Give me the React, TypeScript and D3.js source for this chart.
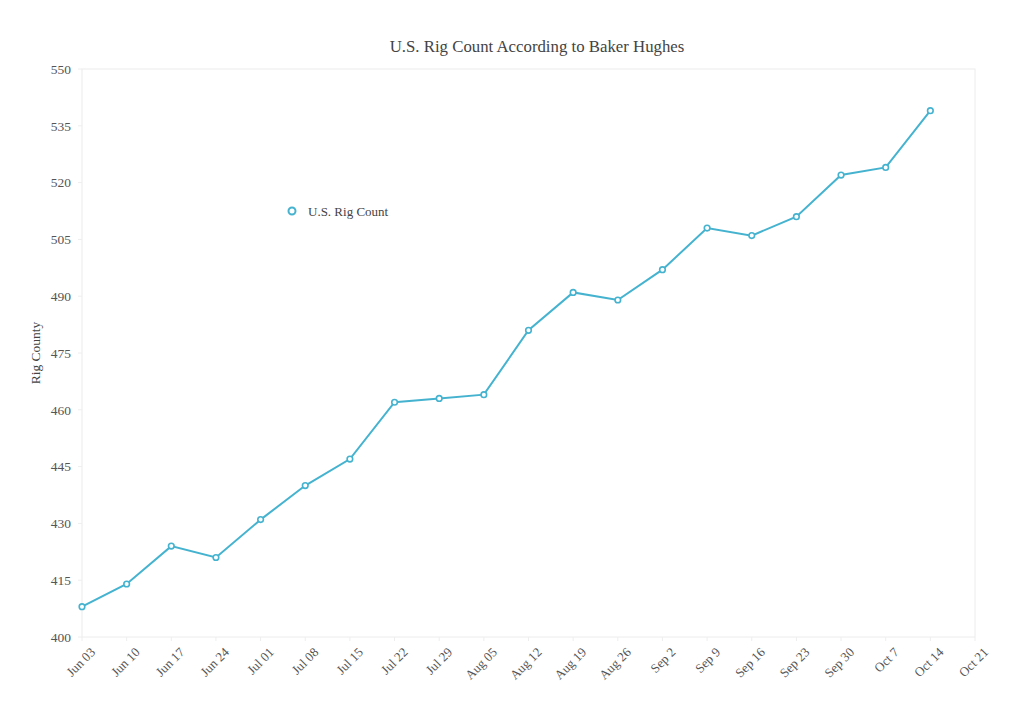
import React from "react";
import * as d3 from "d3";

const categories = ["Jun 03","Jun 10","Jun 17","Jun 24","Jul 01","Jul 08","Jul 15","Jul 22","Jul 29","Aug 05","Aug 12","Aug 19","Aug 26","Sep 2","Sep 9","Sep 16","Sep 23","Sep 30","Oct 7","Oct 14","Oct 21"];
const rigCount: (number | null)[] = [408,414,424,421,431,440,447,462,463,464,481,491,489,497,508,506,511,522,524,539,null];
const yTicks = [400,415,430,445,460,475,490,505,520,535,550];

const W = 1024, H = 719;
const M = { left: 82, right: 975, top: 69, bottom: 637 };
const FONT = "Georgia, 'Liberation Serif', 'DejaVu Serif', serif";
const COLOR = "#45b3cf";

export default function App() {
  const x = d3.scalePoint<string>().domain(categories).range([M.left, M.right]);
  const y = d3.scaleLinear().domain([400, 550]).range([M.bottom, M.top]);
  const pts = categories.map((c, i) => ({ c, v: rigCount[i] })).filter(d => d.v != null) as { c: string; v: number }[];
  const line = d3.line<{ c: string; v: number }>().x(d => x(d.c)!).y(d => y(d.v));
  return (
    <svg width={W} height={H} style={{ position: "absolute", left: 0, top: 0, background: "#fff" }} fontFamily={FONT}>
      <rect x={0} y={0} width={W} height={H} fill="#fff" />
      <text x={537} y={52} textAnchor="middle" fontSize={16.8} fill="#444">U.S. Rig Count According to Baker Hughes</text>
      <rect x={M.left} y={M.top} width={M.right - M.left} height={M.bottom - M.top} fill="none" stroke="#ececec" strokeWidth={1} />
      {yTicks.map(t => (
        <g key={t}>
          <line x1={M.left - 4} x2={M.left} y1={y(t)} y2={y(t)} stroke="#eee" />
          <text x={M.left - 11} y={y(t)} dy="0.35em" textAnchor="end" fontSize={13.5} fill="#555">{t}</text>
        </g>
      ))}
      {categories.map(c => (
        <g key={c}>
          <line x1={x(c)} x2={x(c)} y1={M.bottom} y2={M.bottom + 4} stroke="#eee" />
          <text transform={`translate(${x(c)! + 14},${M.bottom + 16}) rotate(-45)`} textAnchor="end" fontSize={13} fill="#555">{c}</text>
        </g>
      ))}
      <text transform={`translate(40,${(M.top + M.bottom) / 2}) rotate(-90)`} textAnchor="middle" fontSize={13.5} fill="#444">Rig County</text>
      <path d={line(pts)!} fill="none" stroke={COLOR} strokeWidth={2} />
      {pts.map(p => (
        <circle key={p.c} cx={x(p.c)} cy={y(p.v)} r={2.8} fill="#fff" stroke={COLOR} strokeWidth={1.6} />
      ))}
      <circle cx={292} cy={211} r={3.5} fill="#fff" stroke={COLOR} strokeWidth={2} />
      <text x={308} y={211} dy="0.35em" fontSize={13} fill="#444">U.S. Rig Count</text>
    </svg>
  );
}
